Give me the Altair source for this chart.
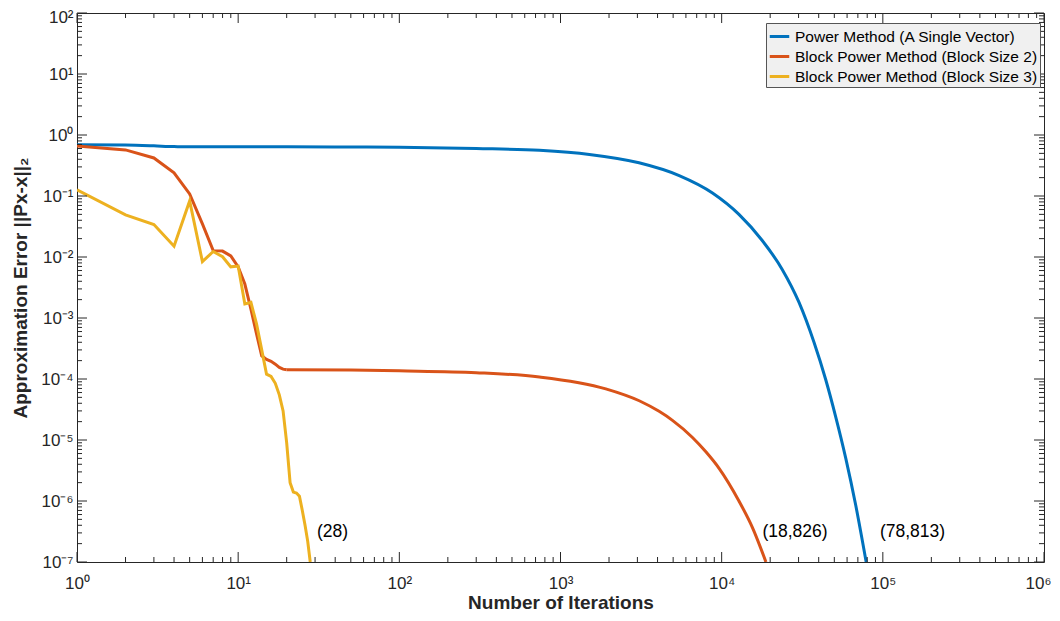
import altair as alt
import pandas as pd

# ---------------- data ----------------
series_names = [
    "Power Method (A Single Vector)",
    "Block Power Method (Block Size 2)",
    "Block Power Method (Block Size 3)",
]
series_colors = ["#0072BD", "#D95319", "#EDB120"]

power_iter = [1, 2, 3, 4, 5, 10, 20, 50, 100, 300, 740, 1510, 3070, 5450, 8770,
              12800, 17750, 23800, 30200, 37400, 44200, 51000, 58900, 67900, 78813]
power_err = [0.69, 0.685, 0.665, 0.645, 0.643, 0.64, 0.64, 0.635, 0.63, 0.60, 0.56,
             0.48, 0.35, 0.216, 0.112, 0.05, 0.019, 0.0062, 0.0018, 4.0e-4, 9.8e-5,
             2.4e-5, 5.0e-6, 8.5e-7, 1e-7]

block2_iter = [1, 2, 3, 4, 5, 6, 7, 8, 9, 10, 11, 12, 13, 14, 15, 16, 17, 18, 19, 20,
               50, 100, 300, 740, 1910, 3080, 4090, 4950, 6590, 7980, 9660, 12800,
               15500, 18826]
block2_err = [0.66, 0.57, 0.42, 0.24, 0.108, 0.035, 0.0127, 0.0125, 0.0104, 0.0069,
              0.0036, 0.0014, 5.5e-4, 2.4e-4, 2.1e-4, 1.95e-4, 1.75e-4, 1.55e-4,
              1.45e-4, 1.42e-4, 1.4e-4, 1.36e-4, 1.27e-4, 1.08e-4, 6.9e-5, 4.4e-5,
              2.95e-5, 2.1e-5, 1.1e-5, 6.4e-6, 3.4e-6, 1.0e-6, 3.7e-7, 1e-7]

block3_iter = list(range(1, 29))
block3_err = [0.126, 0.049, 0.034, 0.015, 0.083, 0.0084, 0.0123, 0.0101, 0.0069,
              0.0071, 0.0017, 0.0018, 8e-4, 3e-4, 1.2e-4, 1.1e-4, 8.5e-5, 5.5e-5,
              3e-5, 9e-6, 2e-6, 1.4e-6, 1.35e-6, 1.2e-6, 7e-7, 4e-7, 2.2e-7, 1e-7]

anno_x = [30.8, 17900, 95900]
anno_y = [3.1e-7, 3.1e-7, 3.1e-7]
anno_text = ["(28)", "(18,826)", "(78,813)"]

x_major = [10.0 ** e for e in range(0, 7)]
x_minor = [k * 10.0 ** e for e in range(0, 6) for k in range(2, 10)]
y_major = [10.0 ** e for e in range(-7, 3)]
y_minor = [k * 10.0 ** e for e in range(-7, 2) for k in range(2, 10)]

# ---------------- build ----------------
rows = []
for name, its, errs in zip(series_names,
                           [power_iter, block2_iter, block3_iter],
                           [power_err, block2_err, block3_err]):
    for i, e in zip(its, errs):
        rows.append({"method": name, "iter": i, "err": e})
df = pd.DataFrame(rows)
# smooth curves: power method, and the tail of block size 2
is_smooth = (df["method"] == series_names[0]) | (
    (df["method"] == series_names[1]) & (df["iter"] >= 20))
# piecewise-linear parts: head of block size 2, and block size 3
is_sharp = (df["method"] == series_names[2]) | (
    (df["method"] == series_names[1]) & (df["iter"] <= 20))
df_smooth = df[is_smooth]
df_sharp = df[is_sharp]
ann_df = pd.DataFrame({"x": anno_x, "y": anno_y, "t": anno_text})

W, H = 967, 549
FONT = "Liberation Sans"
AX = "#262626"
MAJ, MIN = 10, 5

xscale = alt.Scale(type="log", domain=[1, 1e6], nice=False)
yscale = alt.Scale(type="log", domain=[1e-7, 1e2], nice=False)

sup = "['⁻⁷','⁻⁶','⁻⁵','⁻⁴','⁻³','⁻²','⁻¹','⁰','¹','²','³','⁴','⁵','⁶']"
label_expr = "'10' + " + sup + "[round(log(datum.value)/LN10) + 7]"

x_axis_main = alt.Axis(values=x_major, labelExpr=label_expr, ticks=False, domain=False,
                       grid=False, labelFlush=False, labelFont=FONT, labelFontSize=17,
                       labelColor=AX, labelPadding=13,
                       labelOffset={"condition": {"test": "datum.value >= 999999",
                                                  "value": -6}, "value": 0},
                       title="Number of Iterations",
                       titleFont=FONT, titleFontSize=19, titleFontWeight="bold",
                       titleColor=AX, titlePadding=2)
y_axis_main = alt.Axis(values=y_major, labelExpr=label_expr, ticks=False, domain=False,
                       grid=False, labelFlush=False, labelFont=FONT, labelFontSize=17,
                       labelColor=AX, labelPadding=4,
                       labelOffset={"condition": {"test": "datum.value >= 99",
                                                  "value": 4}, "value": 0},
                       title="Approximation Error ||Px-x||₂",
                       titleFont=FONT, titleFontSize=19, titleFontWeight="bold",
                       titleColor=AX, titlePadding=10)

color_enc = alt.Color(
    "method:N", title=None,
    scale=alt.Scale(domain=series_names, range=series_colors),
    legend=alt.Legend(orient="none", legendX=689, legendY=10,
                      fillColor="#f0f0f0", strokeColor="#555555",
                      padding=2, symbolType="stroke", symbolSize=380,
                      symbolStrokeWidth=3, labelFont=FONT,
                      labelFontSize=15.5, labelColor="black",
                      labelLimit=600, rowPadding=0, labelOffset=4),
)

smooth = alt.Chart(df_smooth).mark_line(strokeWidth=3, clip=True,
                                        interpolate="monotone").encode(
    x=alt.X("iter:Q", scale=xscale, axis=x_axis_main),
    y=alt.Y("err:Q", scale=yscale, axis=y_axis_main),
    color=color_enc,
    order=alt.Order("iter:Q"),
)
sharp = alt.Chart(df_sharp).mark_line(strokeWidth=3, clip=True).encode(
    x=alt.X("iter:Q", scale=xscale, axis=None),
    y=alt.Y("err:Q", scale=yscale, axis=None),
    color=color_enc,
    order=alt.Order("iter:Q"),
)


def xticks(values, y0, y1):
    return alt.Chart(pd.DataFrame({"v": values})).mark_rule(
        color=AX, strokeWidth=1).encode(
        x=alt.X("v:Q", scale=xscale, axis=None),
        y=alt.value(y0), y2=alt.value(y1))


def yticks(values, x0, x1):
    return alt.Chart(pd.DataFrame({"v": values})).mark_rule(
        color=AX, strokeWidth=1).encode(
        y=alt.Y("v:Q", scale=yscale, axis=None),
        x=alt.value(x0), x2=alt.value(x1))


tick_layers = [
    xticks(x_major, H, H - MAJ), xticks(x_minor, H, H - MIN),
    xticks(x_major, 0, MAJ), xticks(x_minor, 0, MIN),
    yticks(y_major, 0, MAJ), yticks(y_minor, 0, MIN),
    yticks(y_major, W, W - MAJ), yticks(y_minor, W, W - MIN),
]

ann = alt.Chart(ann_df).mark_text(align="left", baseline="middle", font=FONT,
                                  fontSize=17.5, color="black").encode(
    x=alt.X("x:Q", scale=xscale, axis=None),
    y=alt.Y("y:Q", scale=yscale, axis=None),
    text="t:N",
)

chart = alt.layer(smooth, sharp, *tick_layers, ann).resolve_axis(
    x="independent", y="independent"
).properties(
    width=W, height=H, background="white",
    autosize=alt.AutoSizeParams(type="none"),
    padding={"left": 69, "top": 5, "right": 8, "bottom": 51},
).configure_view(stroke=AX, strokeWidth=1)

chart.save("out.html", embed_options={"renderer": "svg", "actions": False})
